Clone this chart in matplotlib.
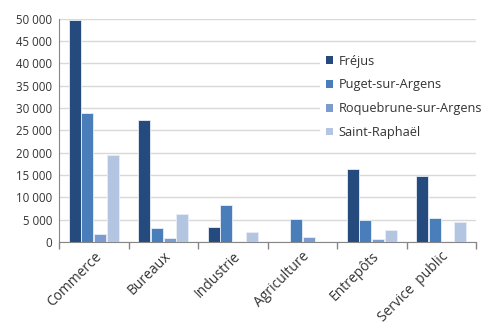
import matplotlib
matplotlib.use("Agg")
from matplotlib import pyplot as plt
import numpy as np

categories = ["Commerce", "Bureaux", "Industrie", "Agriculture", "Entrepôts", "Service  public"]
communes = ["Fréjus", "Puget-sur-Argens", "Roquebrune-sur-Argens", "Saint-Raphaël"]
frejus = [49600, 27300, 3300, 0, 16300, 14800]
puget = [28900, 3100, 8200, 5200, 4900, 5400]
roquebrune = [1800, 900, 0, 1100, 700, 0]
saint_raphael = [19400, 6200, 2300, 0, 2600, 4400]
yticks = [0, 5000, 10000, 15000, 20000, 25000, 30000, 35000, 40000, 45000, 50000]

series = [frejus, puget, roquebrune, saint_raphael]
colors = ["#244A7E", "#4A7EBB", "#7C9BCF", "#B3C5E1"]

plt.rcParams["font.family"] = ["Open Sans", "DejaVu Sans"]

fig = plt.figure(figsize=(4.88, 3.29), dpi=100)
ax = fig.add_axes([59 / 488, 1 - 242 / 329, (476 - 59) / 488, (242 - 18.5) / 329])

x = np.arange(len(categories))
step = 0.183
width = 0.17
for i, (vals, c) in enumerate(zip(series, colors)):
    ax.bar(x + (i - 1.5) * step, vals, width, color=c, edgecolor="#E8EEF7",
           linewidth=0.6, label=communes[i], zorder=3)

ax.set_xlim(-0.5, len(categories) - 0.5)
ax.set_ylim(0, 50000)
ax.set_yticks(yticks)
ax.set_yticklabels([f"{v:,}".replace(",", " ") for v in yticks], fontsize=8.3, color="#333333")
ax.yaxis.grid(True, color="#D9D9D9", linewidth=1, zorder=0)
ax.tick_params(axis="y", length=0, pad=5)

ax.set_xticks(x)
ax.set_xticklabels(categories, rotation=45, ha="right", rotation_mode="anchor",
                   fontsize=10, color="#333333")
ax.set_xticks(np.arange(len(categories) + 1) - 0.5, minor=True)
ax.tick_params(axis="x", which="major", length=0, pad=5)
ax.tick_params(axis="x", which="minor", length=5, color="#868686", width=1)

for s in ["top", "right"]:
    ax.spines[s].set_visible(False)
ax.spines["left"].set_color("#868686")
ax.spines["bottom"].set_color("#868686")

leg = fig.legend(loc="upper left", bbox_to_anchor=(314 / 488, 1 - 43 / 329),
                 frameon=True, facecolor="white", edgecolor="none", framealpha=1,
                 fontsize=9.2, handlelength=0.55, handleheight=0.55, handletextpad=0.45,
                 labelspacing=0.85, borderpad=0.4, labelcolor="#333333")
leg.get_frame().set_boxstyle("square", pad=0)
for h in leg.legend_handles:
    h.set_edgecolor("none")

fig.savefig("out.png", dpi=100)
